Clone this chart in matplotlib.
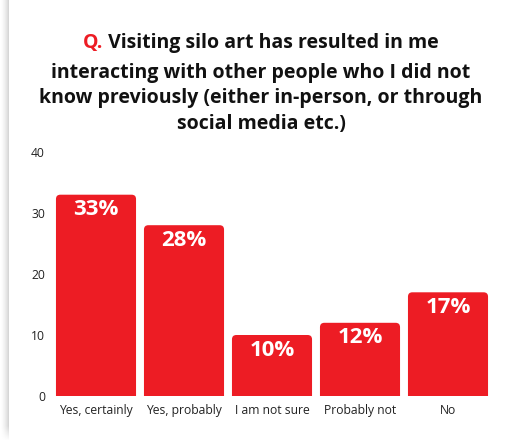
import matplotlib
matplotlib.use("Agg")
import matplotlib.pyplot as plt
import numpy as np
from matplotlib.patches import FancyBboxPatch

categories = ["Yes, certainly", "Yes, probably", "I am not sure", "Probably not", "No"]
values = [33, 28, 10, 12, 17]
labels = ["33%", "28%", "10%", "12%", "17%"]
yticks = [0, 10, 20, 30, 40]
title_q = "Q."
title_line1 = " Visiting silo art has resulted in me"
title_rest = ("interacting with other people who I did not\n"
              "know previously (either in-person, or through\n"
              "social media etc.)")

RED = "#ED1C24"
FONT = ["Open Sans", "DejaVu Sans"]
plt.rcParams["font.family"] = FONT

W, H = 531, 441
fig = plt.figure(figsize=(W / 100, H / 100), dpi=100)
fig.patch.set_facecolor("white")

# left card shadow
sh = fig.add_axes([0, 0, 9 / W, 1])
sh.axis("off")
grad = np.linspace(0, 1, 9) ** 1.5
alpha_v = np.clip(np.linspace(0, 1, 441) * 30, 0, 1)[::-1]
img = np.ones((441, 9, 4))
img[..., :3] = 0.55
img[..., 3] = 0.35 * grad[None, :] * alpha_v[:, None]
sh.imshow(img, aspect="auto", extent=[0, 1, 0, 1])
sh.set_xlim(0, 1); sh.set_ylim(0, 1)

ax = fig.add_axes([52 / W, 45 / H, 440 / W, 244 / H])
x = np.arange(len(categories))
bars = ax.bar(x, values, width=0.91, color=RED)
ax.set_xlim(-0.5, len(categories) - 0.5)
ax.set_ylim(0, 40)

# rounded top corners
r = 0.05
asp = 14.4
for b in bars:
    bx, bw, bh = b.get_x(), b.get_width(), b.get_height()
    p = FancyBboxPatch((bx, -2), bw, bh + 2,
                       boxstyle=f"round,pad=0,rounding_size={r}",
                       mutation_aspect=asp, facecolor=RED, edgecolor="none",
                       clip_on=True)
    ax.add_patch(p)
    b.remove()

for xi, v, lab in zip(x, values, labels):
    ax.annotate(lab, (xi, v), xytext=(0, -15), textcoords="offset pixels",
                ha="center", va="center", color="white", fontsize=16,
                fontweight="bold")

ax.set_yticks(yticks)
ax.set_xticks(x)
ax.set_xticklabels(categories, fontsize=8.7, color="#222222")
ax.tick_params(axis="y", labelsize=8.7, labelcolor="#222222", length=0, pad=5)
ax.tick_params(axis="x", length=0, pad=6)
for s in ax.spines.values():
    s.set_visible(False)

# title
TS = 14
fig.canvas.draw()
renderer = fig.canvas.get_renderer()
y1 = 1 - 43 / H
tq = fig.text(0, y1, title_q, color=RED, fontsize=TS, fontweight="bold",
              ha="left", va="center")
tl = fig.text(0, y1, title_line1, color="#111111", fontsize=TS,
              fontweight="bold", ha="left", va="center")
wq = tq.get_window_extent(renderer).width
wl = tl.get_window_extent(renderer).width
cx = 261
start = cx - (wq + wl) / 2
tq.set_x(start / W)
tl.set_x((start + wq) / W)
fig.text(cx / W, 1 - 98.5 / H, title_rest, color="#111111", fontsize=TS,
         fontweight="bold", ha="center", va="center", linespacing=1.38)

fig.savefig("out.png", dpi=100, facecolor="white")
